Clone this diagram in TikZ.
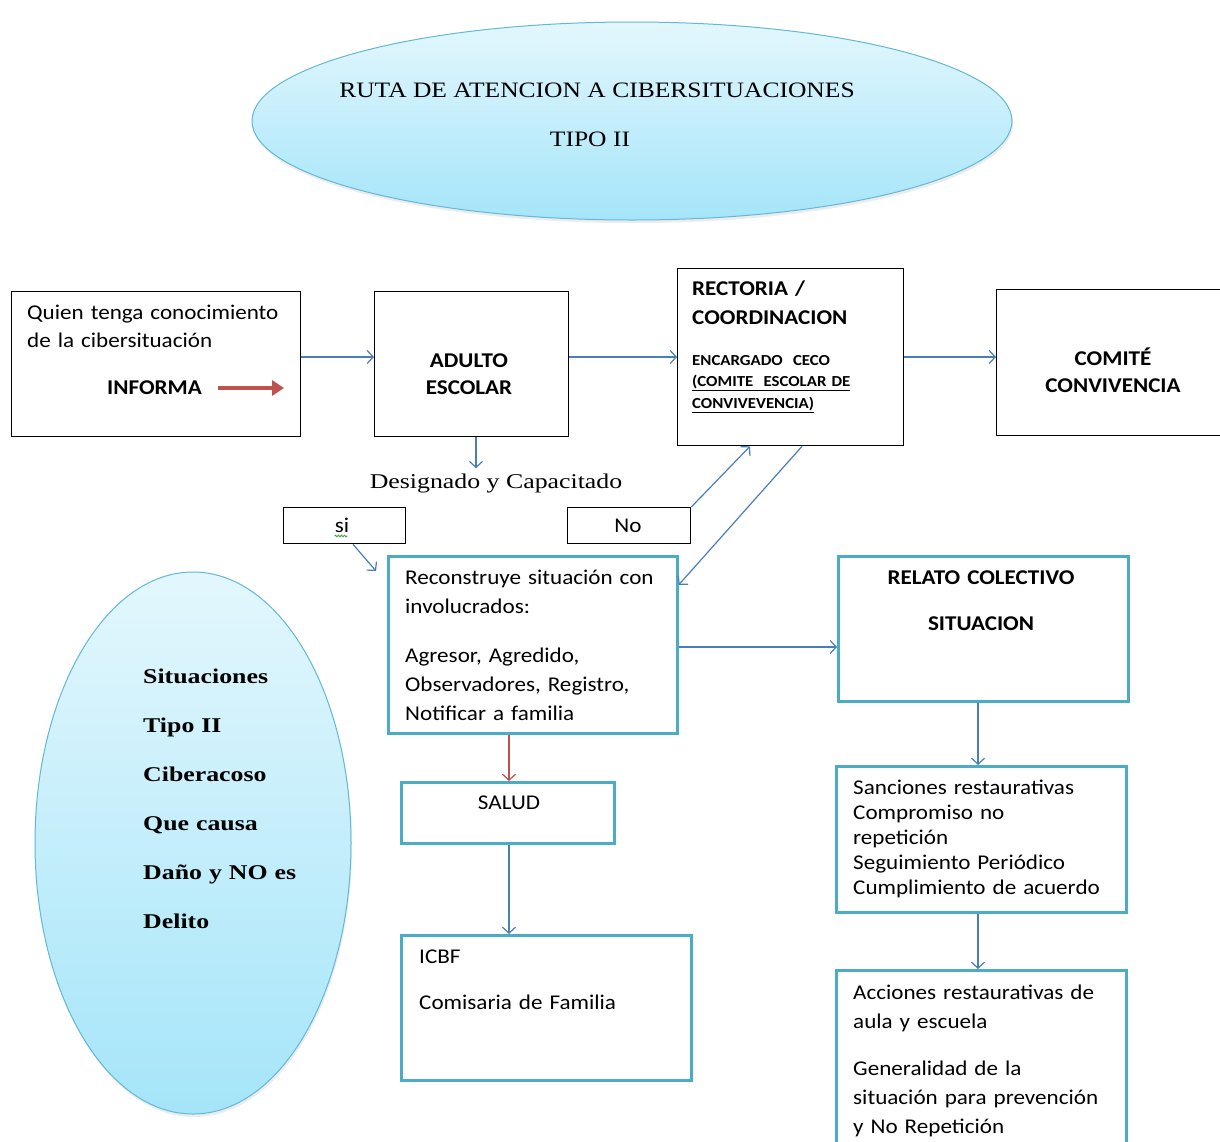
\documentclass[tikz,border=0pt]{standalone}
\usepackage{fontspec}
\setmainfont{Carlito}
\newfontfamily\sansw{Carlito}[FakeStretch=1.1]
\newfontfamily\serifw{Liberation Serif}[FakeStretch=1.16]
\newfontfamily\serifx{Liberation Serif}[FakeStretch=1.23]
\usetikzlibrary{arrows.meta,shapes.geometric,shadows,decorations.pathmorphing}
\definecolor{flowblue}{HTML}{4A7EBB}
\definecolor{frameteal}{HTML}{4BACC6}
\definecolor{warnred}{HTML}{C0504D}
\definecolor{skytop}{HTML}{E3F7FD}
\definecolor{skybot}{HTML}{A5E5F9}
\definecolor{skyline}{HTML}{62B8D6}
\definecolor{spellgreen}{HTML}{3F9F3F}
\begin{document}
\begin{tikzpicture}[x=1pt,y=-1pt,
  plainbox/.style={draw=black, line width=1.3pt, fill=white, rectangle, inner sep=0pt, anchor=north west},
  tealbox/.style={draw=frameteal, line width=2.6pt, fill=white, rectangle, inner sep=0pt, anchor=north west},
  bubble/.style={ellipse, draw=skyline, line width=1pt, top color=skytop, bottom color=skybot, inner sep=0pt,
    drop shadow={opacity=0.15, shadow xshift=1pt, shadow yshift=-3pt}},
  flow/.style={draw=flowblue, line width=1.2pt, -{Straight Barb[length=6pt,width=13pt]}},
  body/.style={font=\sansw\fontsize{21}{28}\selectfont, inner sep=0pt, anchor=base west, align=left, text width=300pt},
  bodybold/.style={body, font=\sansw\bfseries\fontsize{21}{29}\selectfont},
  heads/.style={font=\sansw\bfseries\fontsize{21}{27}\selectfont, inner sep=0pt, anchor=base, align=center, text width=270pt},
  label/.style={font=\sansw\fontsize{21}{25}\selectfont, inner sep=0pt, anchor=base},
  smallbold/.style={body, font=\sansw\bfseries\fontsize{15.3}{21.5}\selectfont},
  serifhead/.style={font=\serifw\fontsize{22}{49}\selectfont, inner sep=0pt, anchor=base},
  serifbold/.style={font=\serifx\bfseries\fontsize{21}{49}\selectfont, inner sep=0pt, anchor=base west, align=left, text width=200pt}
]
\fill[white] (0,0) rectangle (1220,1141);
\useasboundingbox (0,0) rectangle (1220,1141);

% title bubble and side bubble
\node[bubble, minimum width=760pt, minimum height=198pt] (titulo) at (632,121) {};
\node[bubble, minimum width=316pt, minimum height=542pt] (tipo) at (193,843) {};
\node[serifhead] (titulo1) at (597,97) {RUTA DE ATENCION A CIBERSITUACIONES};
\node[serifhead] (titulo2) at (590,146) {TIPO II};
\node[serifbold] (tipotxt) at (143,683) {Situaciones\\Tipo II\\Ciberacoso\\Que causa\\Daño y NO es\\Delito};

% boxes of the route
\node[plainbox, minimum width=289pt, minimum height=145pt] (quien) at (11,291) {};
\node[plainbox, minimum width=194pt, minimum height=145pt] (adulto) at (374,291) {};
\node[plainbox, minimum width=226pt, minimum height=177pt] (rectoria) at (677,268) {};
\node[plainbox, minimum width=232pt, minimum height=146pt] (comite) at (996,289) {};
\node[plainbox, minimum width=122pt, minimum height=36pt] (si) at (283,507) {};
\node[plainbox, minimum width=123pt, minimum height=36pt] (no) at (567,507) {};
\node[tealbox, minimum width=289pt, minimum height=177pt] (recon) at (387,555) {};
\node[tealbox, minimum width=290pt, minimum height=145pt] (relato) at (837,555) {};
\node[tealbox, minimum width=290pt, minimum height=146pt] (sanc) at (835,765) {};
\node[tealbox, minimum width=290pt, minimum height=195pt] (acc) at (835,969) {};
\node[tealbox, minimum width=213pt, minimum height=61pt] (salud) at (400,781) {};
\node[tealbox, minimum width=290pt, minimum height=145pt] (icbf) at (400,934) {};

% texts inside the boxes
\node[body] (quientxt) at (27,319) {Quien tenga conocimiento\\de la cibersituación};
\node[bodybold] (informa) at (107,394) {INFORMA};
\node[heads] (adultotxt) at (469,367) {ADULTO\\ESCOLAR};
\node[bodybold] (rectxt) at (692,295) {RECTORIA /\\COORDINACION};
\node[smallbold] (cecotxt) at (692,365) {ENCARGADO~ CECO\\\underline{(COMITE~ ESCOLAR DE}\\\underline{CONVIVEVENCIA)}};
\node[heads] (comitetxt) at (1113,365) {COMITÉ\\CONVIVENCIA};
\node[font=\serifx\fontsize{21}{25}\selectfont, inner sep=0pt, anchor=base] (desig) at (496,488) {Designado y Capacitado};
\node[label] (sitxt) at (342,532) {si};
\node[label] (notxt) at (628,532) {No};
\node[body, font=\sansw\fontsize{21}{29}\selectfont] (recontxt) at (405,584)
  {Reconstruye situación con\\involucrados:\\[20pt]Agresor, Agredido,\\Observadores, Registro,\\Notificar a familia};
\node[heads] (relatotxt) at (981,584) {RELATO COLECTIVO\\[19pt]SITUACION};
\node[body, font=\sansw\fontsize{21}{25}\selectfont] (sanctxt) at (853,794)
  {Sanciones restaurativas\\Compromiso no\\repetición\\Seguimiento Periódico\\Cumplimiento de acuerdo};
\node[body, font=\sansw\fontsize{21}{29}\selectfont] (acctxt) at (853,999)
  {Acciones restaurativas de\\aula y escuela\\[18pt]Generalidad de la\\situación para prevención\\y No Repetición};
\node[label] (saludtxt) at (509,809) {SALUD};
\node[body] (icbftxt) at (419,963) {ICBF\\[18pt]Comisaria de Familia};

% spelling mark under "si"
\draw[spellgreen, line width=0.9pt, decorate, decoration={snake, amplitude=0.8pt, segment length=3pt}]
  (sitxt.base west) ++(0,4) -- ++(13,0);

% red arrow inside the first box
\coordinate (rojoA) at (218,388);
\coordinate (rojoB) at (284,388);
\draw[warnred, line width=4pt, -{Triangle[length=12pt,width=15pt]}] (rojoA) -- (rojoB);

% connectors
\draw[flow] (quien.east |- 0,357) -- (adulto.west |- 0,357);
\draw[flow] (adulto.east |- 0,357) -- (rectoria.west |- 0,357);
\draw[flow] (rectoria.east |- 0,357) -- (comite.west |- 0,357);
\draw[flow, shorten >=5pt] (adulto.south -| 476,0) -- (desig.north -| 476,0);
\coordinate (sitip) at (376,571);
\draw[flow] (si.south -| 353,0) -- (sitip);
\draw[flow] (no.north east) -- (rectoria.south -| 750,0);
\draw[flow] (rectoria.south -| 802,0) -- (recon.east |- 0,585);
\draw[flow] (recon.east |- 0,647) -- (relato.west |- 0,647);
\draw[flow] (relato.south -| 978,0) -- (sanc.north -| 978,0);
\draw[flow] (sanc.south -| 978,0) -- (acc.north -| 978,0);
\draw[flow, draw=warnred] (recon.south -| 509,0) -- (salud.north -| 509,0);
\draw[flow] (salud.south -| 509,0) -- (icbf.north -| 509,0);
\end{tikzpicture}
\end{document}
